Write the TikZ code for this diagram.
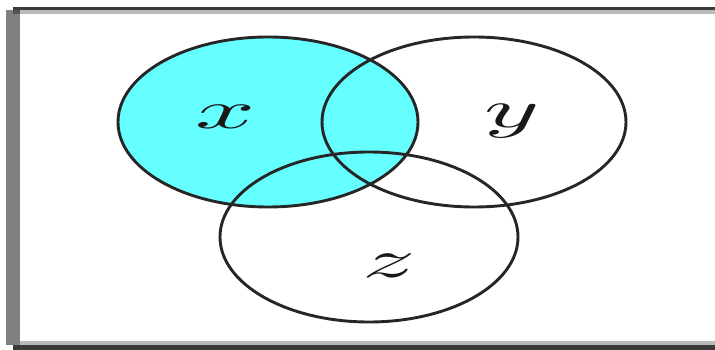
\documentclass[tikz,border=0pt]{standalone}
\usetikzlibrary{shapes.geometric}
\begin{document}
\begin{tikzpicture}[x=1pt,y=-1pt,
  setline/.style={draw=black!85,line width=2.9pt},
  setfill/.style={fill={rgb,255:red,102;green,255;blue,255}},
  setlabel/.style={font=\fontsize{10}{12}\selectfont,xscale=10.5,yscale=5.4,anchor=base,inner sep=0pt,text=black!90}]
\useasboundingbox (0,0) rectangle (715,350);
% frame
\fill[black!50] (6,10) rectangle (20,345);
\fill[black!77] (13,7) rectangle (715,10);
\fill[black!67] (13,10) rectangle (20,14);
\fill[black!27] (20,10) rectangle (715,14);
\fill[black!27] (20,341) rectangle (715,345);
\fill[black!77] (13,345) rectangle (715,350);
% sets
\path[setfill] (268,122) ellipse [x radius=150,y radius=85];
\node[setline,ellipse,minimum width=300pt,minimum height=170pt,inner sep=0pt] (X) at (268,122) {};
\node[setline,ellipse,minimum width=304pt,minimum height=170pt,inner sep=0pt] (Y) at (474,122) {};
\node[setline,ellipse,minimum width=298pt,minimum height=170pt,inner sep=0pt] (Z) at (369,237) {};
% labels
\node[setlabel] (lx) at (226,129) {$x$};
\node[setlabel] (ly) at (512,128) {$y$};
\node[setlabel] (lz) at (389,277) {$z$};
\end{tikzpicture}
\end{document}
